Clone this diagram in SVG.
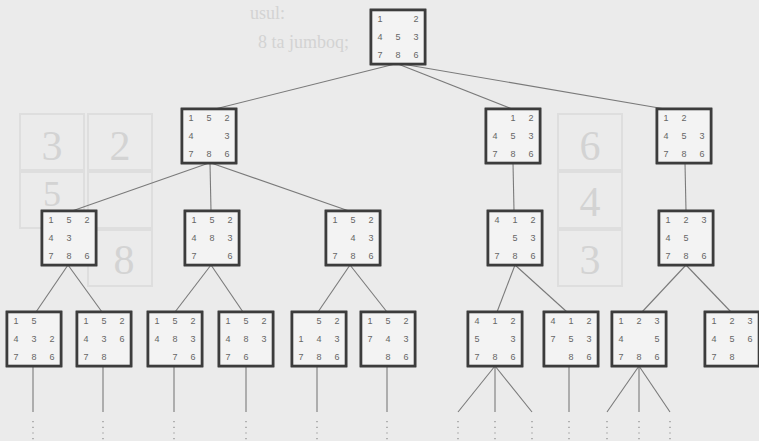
<svg xmlns="http://www.w3.org/2000/svg" width="759" height="441" viewBox="0 0 759 441">
<style>
.bg{fill:#ebebeb}
.ghost{font-family:"Liberation Serif",serif;fill:#d3d3d3}
.gbox{fill:none;stroke:#dedede;stroke-width:2}
.frame{fill:#f3f3f3;stroke:#3c3c3c;stroke-width:2.6}
.t{fill:#efefef;stroke:#5a5a5a;stroke-width:1.2}
.n{font-family:"Liberation Sans",Arial,sans-serif;font-size:9px;fill:#666;text-anchor:middle}
.edge{stroke:#7a7a7a;stroke-width:1.1;fill:none}
.dots{stroke:#8a8a8a;stroke-width:1.2;fill:none;stroke-dasharray:1.2 4.5}
</style>
<rect class="bg" x="0" y="0" width="759" height="441"/>
<g id="ghost">
<text class="ghost" x="250" y="19" font-size="18">usul:</text>
<text class="ghost" x="258" y="48" font-size="18">8 ta jumboq;</text>
<rect class="gbox" x="20" y="114" width="64" height="56"/>
<rect class="gbox" x="88" y="114" width="64" height="56"/>
<rect class="gbox" x="20" y="172" width="64" height="56"/>
<rect class="gbox" x="88" y="172" width="64" height="56"/>
<rect class="gbox" x="88" y="230" width="64" height="56"/>
<rect class="gbox" x="558" y="114" width="64" height="56"/>
<rect class="gbox" x="558" y="172" width="64" height="56"/>
<rect class="gbox" x="558" y="230" width="64" height="56"/>
<text class="ghost" x="52" y="160" font-size="42" text-anchor="middle">3</text>
<text class="ghost" x="120" y="160" font-size="42" text-anchor="middle">2</text>
<text class="ghost" x="52" y="206" font-size="36" text-anchor="middle">5</text>
<text class="ghost" x="124" y="274" font-size="42" text-anchor="middle">8</text>
<text class="ghost" x="590" y="160" font-size="42" text-anchor="middle">6</text>
<text class="ghost" x="590" y="216" font-size="42" text-anchor="middle">4</text>
<text class="ghost" x="590" y="274" font-size="42" text-anchor="middle">3</text>
</g>
<g id="connectors">
<line class="edge" x1="395" y1="64" x2="215" y2="109"/>
<line class="edge" x1="398" y1="64" x2="512" y2="109"/>
<line class="edge" x1="402" y1="64" x2="665" y2="109"/>
<line class="edge" x1="209" y1="163" x2="72" y2="211"/>
<line class="edge" x1="210" y1="163" x2="211" y2="211"/>
<line class="edge" x1="211" y1="163" x2="349" y2="211"/>
<line class="edge" x1="513" y1="163" x2="514" y2="211"/>
<line class="edge" x1="685" y1="163" x2="686" y2="211"/>
<line class="edge" x1="68" y1="265" x2="36" y2="312"/>
<line class="edge" x1="68" y1="265" x2="102" y2="312"/>
<line class="edge" x1="211" y1="265" x2="175" y2="312"/>
<line class="edge" x1="211" y1="265" x2="243" y2="312"/>
<line class="edge" x1="350" y1="265" x2="318" y2="312"/>
<line class="edge" x1="350" y1="265" x2="387" y2="312"/>
<line class="edge" x1="515" y1="265" x2="497" y2="312"/>
<line class="edge" x1="515" y1="265" x2="567" y2="312"/>
<line class="edge" x1="686" y1="265" x2="642" y2="312"/>
<line class="edge" x1="686" y1="265" x2="731" y2="312"/>
<line class="edge" x1="33" y1="366" x2="33" y2="412"/>
<line class="edge" x1="103" y1="366" x2="103" y2="412"/>
<line class="edge" x1="174" y1="366" x2="174" y2="412"/>
<line class="edge" x1="246" y1="366" x2="246" y2="412"/>
<line class="edge" x1="317" y1="366" x2="317" y2="412"/>
<line class="edge" x1="387" y1="366" x2="387" y2="412"/>
<line class="edge" x1="495" y1="366" x2="458" y2="412"/>
<line class="edge" x1="495" y1="366" x2="495" y2="412"/>
<line class="edge" x1="495" y1="366" x2="532" y2="412"/>
<line class="edge" x1="569" y1="366" x2="569" y2="412"/>
<line class="edge" x1="639" y1="366" x2="607" y2="412"/>
<line class="edge" x1="639" y1="366" x2="639" y2="412"/>
<line class="edge" x1="639" y1="366" x2="670" y2="412"/>
<path class="dots" d="M33 421V441M103 421V441M174 421V441M246 421V441M317 421V441M387 421V441M458 421V441M495 421V441M532 421V441M569 421V441M607 421V441M639 421V441M670 421V441"/>
</g>
<g id="root" transform="translate(371,10)"><rect class="frame" width="54" height="54"/><rect class="t" x="0" y="0" width="18" height="18"/><rect class="t" x="36" y="0" width="18" height="18"/><rect class="t" x="0" y="18" width="18" height="18"/><rect class="t" x="18" y="18" width="18" height="18"/><rect class="t" x="36" y="18" width="18" height="18"/><rect class="t" x="0" y="36" width="18" height="18"/><rect class="t" x="18" y="36" width="18" height="18"/><rect class="t" x="36" y="36" width="18" height="18"/><rect class="frame" width="54" height="54" fill="none"/><text class="n" x="9" y="12">1</text><text class="n" x="45" y="12">2</text><text class="n" x="9" y="30">4</text><text class="n" x="27" y="30">5</text><text class="n" x="45" y="30">3</text><text class="n" x="9" y="48">7</text><text class="n" x="27" y="48">8</text><text class="n" x="45" y="48">6</text></g>
<g id="a" transform="translate(182,109)"><rect class="frame" width="54" height="54"/><rect class="t" x="0" y="0" width="18" height="18"/><rect class="t" x="18" y="0" width="18" height="18"/><rect class="t" x="36" y="0" width="18" height="18"/><rect class="t" x="0" y="18" width="18" height="18"/><rect class="t" x="36" y="18" width="18" height="18"/><rect class="t" x="0" y="36" width="18" height="18"/><rect class="t" x="18" y="36" width="18" height="18"/><rect class="t" x="36" y="36" width="18" height="18"/><rect class="frame" width="54" height="54" fill="none"/><text class="n" x="9" y="12">1</text><text class="n" x="27" y="12">5</text><text class="n" x="45" y="12">2</text><text class="n" x="9" y="30">4</text><text class="n" x="45" y="30">3</text><text class="n" x="9" y="48">7</text><text class="n" x="27" y="48">8</text><text class="n" x="45" y="48">6</text></g>
<g id="b" transform="translate(486,109)"><rect class="frame" width="54" height="54"/><rect class="t" x="18" y="0" width="18" height="18"/><rect class="t" x="36" y="0" width="18" height="18"/><rect class="t" x="0" y="18" width="18" height="18"/><rect class="t" x="18" y="18" width="18" height="18"/><rect class="t" x="36" y="18" width="18" height="18"/><rect class="t" x="0" y="36" width="18" height="18"/><rect class="t" x="18" y="36" width="18" height="18"/><rect class="t" x="36" y="36" width="18" height="18"/><rect class="frame" width="54" height="54" fill="none"/><text class="n" x="27" y="12">1</text><text class="n" x="45" y="12">2</text><text class="n" x="9" y="30">4</text><text class="n" x="27" y="30">5</text><text class="n" x="45" y="30">3</text><text class="n" x="9" y="48">7</text><text class="n" x="27" y="48">8</text><text class="n" x="45" y="48">6</text></g>
<g id="c" transform="translate(657,109)"><rect class="frame" width="54" height="54"/><rect class="t" x="0" y="0" width="18" height="18"/><rect class="t" x="18" y="0" width="18" height="18"/><rect class="t" x="0" y="18" width="18" height="18"/><rect class="t" x="18" y="18" width="18" height="18"/><rect class="t" x="36" y="18" width="18" height="18"/><rect class="t" x="0" y="36" width="18" height="18"/><rect class="t" x="18" y="36" width="18" height="18"/><rect class="t" x="36" y="36" width="18" height="18"/><rect class="frame" width="54" height="54" fill="none"/><text class="n" x="9" y="12">1</text><text class="n" x="27" y="12">2</text><text class="n" x="9" y="30">4</text><text class="n" x="27" y="30">5</text><text class="n" x="45" y="30">3</text><text class="n" x="9" y="48">7</text><text class="n" x="27" y="48">8</text><text class="n" x="45" y="48">6</text></g>
<g id="a1" transform="translate(42,211)"><rect class="frame" width="54" height="54"/><rect class="t" x="0" y="0" width="18" height="18"/><rect class="t" x="18" y="0" width="18" height="18"/><rect class="t" x="36" y="0" width="18" height="18"/><rect class="t" x="0" y="18" width="18" height="18"/><rect class="t" x="18" y="18" width="18" height="18"/><rect class="t" x="0" y="36" width="18" height="18"/><rect class="t" x="18" y="36" width="18" height="18"/><rect class="t" x="36" y="36" width="18" height="18"/><rect class="frame" width="54" height="54" fill="none"/><text class="n" x="9" y="12">1</text><text class="n" x="27" y="12">5</text><text class="n" x="45" y="12">2</text><text class="n" x="9" y="30">4</text><text class="n" x="27" y="30">3</text><text class="n" x="9" y="48">7</text><text class="n" x="27" y="48">8</text><text class="n" x="45" y="48">6</text></g>
<g id="a2" transform="translate(185,211)"><rect class="frame" width="54" height="54"/><rect class="t" x="0" y="0" width="18" height="18"/><rect class="t" x="18" y="0" width="18" height="18"/><rect class="t" x="36" y="0" width="18" height="18"/><rect class="t" x="0" y="18" width="18" height="18"/><rect class="t" x="18" y="18" width="18" height="18"/><rect class="t" x="36" y="18" width="18" height="18"/><rect class="t" x="0" y="36" width="18" height="18"/><rect class="t" x="36" y="36" width="18" height="18"/><rect class="frame" width="54" height="54" fill="none"/><text class="n" x="9" y="12">1</text><text class="n" x="27" y="12">5</text><text class="n" x="45" y="12">2</text><text class="n" x="9" y="30">4</text><text class="n" x="27" y="30">8</text><text class="n" x="45" y="30">3</text><text class="n" x="9" y="48">7</text><text class="n" x="45" y="48">6</text></g>
<g id="a3" transform="translate(326,211)"><rect class="frame" width="54" height="54"/><rect class="t" x="0" y="0" width="18" height="18"/><rect class="t" x="18" y="0" width="18" height="18"/><rect class="t" x="36" y="0" width="18" height="18"/><rect class="t" x="18" y="18" width="18" height="18"/><rect class="t" x="36" y="18" width="18" height="18"/><rect class="t" x="0" y="36" width="18" height="18"/><rect class="t" x="18" y="36" width="18" height="18"/><rect class="t" x="36" y="36" width="18" height="18"/><rect class="frame" width="54" height="54" fill="none"/><text class="n" x="9" y="12">1</text><text class="n" x="27" y="12">5</text><text class="n" x="45" y="12">2</text><text class="n" x="27" y="30">4</text><text class="n" x="45" y="30">3</text><text class="n" x="9" y="48">7</text><text class="n" x="27" y="48">8</text><text class="n" x="45" y="48">6</text></g>
<g id="b1" transform="translate(488,211)"><rect class="frame" width="54" height="54"/><rect class="t" x="0" y="0" width="18" height="18"/><rect class="t" x="18" y="0" width="18" height="18"/><rect class="t" x="36" y="0" width="18" height="18"/><rect class="t" x="18" y="18" width="18" height="18"/><rect class="t" x="36" y="18" width="18" height="18"/><rect class="t" x="0" y="36" width="18" height="18"/><rect class="t" x="18" y="36" width="18" height="18"/><rect class="t" x="36" y="36" width="18" height="18"/><rect class="frame" width="54" height="54" fill="none"/><text class="n" x="9" y="12">4</text><text class="n" x="27" y="12">1</text><text class="n" x="45" y="12">2</text><text class="n" x="27" y="30">5</text><text class="n" x="45" y="30">3</text><text class="n" x="9" y="48">7</text><text class="n" x="27" y="48">8</text><text class="n" x="45" y="48">6</text></g>
<g id="c1" transform="translate(659,211)"><rect class="frame" width="54" height="54"/><rect class="t" x="0" y="0" width="18" height="18"/><rect class="t" x="18" y="0" width="18" height="18"/><rect class="t" x="36" y="0" width="18" height="18"/><rect class="t" x="0" y="18" width="18" height="18"/><rect class="t" x="18" y="18" width="18" height="18"/><rect class="t" x="0" y="36" width="18" height="18"/><rect class="t" x="18" y="36" width="18" height="18"/><rect class="t" x="36" y="36" width="18" height="18"/><rect class="frame" width="54" height="54" fill="none"/><text class="n" x="9" y="12">1</text><text class="n" x="27" y="12">2</text><text class="n" x="45" y="12">3</text><text class="n" x="9" y="30">4</text><text class="n" x="27" y="30">5</text><text class="n" x="9" y="48">7</text><text class="n" x="27" y="48">8</text><text class="n" x="45" y="48">6</text></g>
<g id="l1" transform="translate(7,312)"><rect class="frame" width="54" height="54"/><rect class="t" x="0" y="0" width="18" height="18"/><rect class="t" x="18" y="0" width="18" height="18"/><rect class="t" x="0" y="18" width="18" height="18"/><rect class="t" x="18" y="18" width="18" height="18"/><rect class="t" x="36" y="18" width="18" height="18"/><rect class="t" x="0" y="36" width="18" height="18"/><rect class="t" x="18" y="36" width="18" height="18"/><rect class="t" x="36" y="36" width="18" height="18"/><rect class="frame" width="54" height="54" fill="none"/><text class="n" x="9" y="12">1</text><text class="n" x="27" y="12">5</text><text class="n" x="9" y="30">4</text><text class="n" x="27" y="30">3</text><text class="n" x="45" y="30">2</text><text class="n" x="9" y="48">7</text><text class="n" x="27" y="48">8</text><text class="n" x="45" y="48">6</text></g>
<g id="l2" transform="translate(77,312)"><rect class="frame" width="54" height="54"/><rect class="t" x="0" y="0" width="18" height="18"/><rect class="t" x="18" y="0" width="18" height="18"/><rect class="t" x="36" y="0" width="18" height="18"/><rect class="t" x="0" y="18" width="18" height="18"/><rect class="t" x="18" y="18" width="18" height="18"/><rect class="t" x="36" y="18" width="18" height="18"/><rect class="t" x="0" y="36" width="18" height="18"/><rect class="t" x="18" y="36" width="18" height="18"/><rect class="frame" width="54" height="54" fill="none"/><text class="n" x="9" y="12">1</text><text class="n" x="27" y="12">5</text><text class="n" x="45" y="12">2</text><text class="n" x="9" y="30">4</text><text class="n" x="27" y="30">3</text><text class="n" x="45" y="30">6</text><text class="n" x="9" y="48">7</text><text class="n" x="27" y="48">8</text></g>
<g id="l3" transform="translate(148,312)"><rect class="frame" width="54" height="54"/><rect class="t" x="0" y="0" width="18" height="18"/><rect class="t" x="18" y="0" width="18" height="18"/><rect class="t" x="36" y="0" width="18" height="18"/><rect class="t" x="0" y="18" width="18" height="18"/><rect class="t" x="18" y="18" width="18" height="18"/><rect class="t" x="36" y="18" width="18" height="18"/><rect class="t" x="18" y="36" width="18" height="18"/><rect class="t" x="36" y="36" width="18" height="18"/><rect class="frame" width="54" height="54" fill="none"/><text class="n" x="9" y="12">1</text><text class="n" x="27" y="12">5</text><text class="n" x="45" y="12">2</text><text class="n" x="9" y="30">4</text><text class="n" x="27" y="30">8</text><text class="n" x="45" y="30">3</text><text class="n" x="27" y="48">7</text><text class="n" x="45" y="48">6</text></g>
<g id="l4" transform="translate(219,312)"><rect class="frame" width="54" height="54"/><rect class="t" x="0" y="0" width="18" height="18"/><rect class="t" x="18" y="0" width="18" height="18"/><rect class="t" x="36" y="0" width="18" height="18"/><rect class="t" x="0" y="18" width="18" height="18"/><rect class="t" x="18" y="18" width="18" height="18"/><rect class="t" x="36" y="18" width="18" height="18"/><rect class="t" x="0" y="36" width="18" height="18"/><rect class="t" x="18" y="36" width="18" height="18"/><rect class="frame" width="54" height="54" fill="none"/><text class="n" x="9" y="12">1</text><text class="n" x="27" y="12">5</text><text class="n" x="45" y="12">2</text><text class="n" x="9" y="30">4</text><text class="n" x="27" y="30">8</text><text class="n" x="45" y="30">3</text><text class="n" x="9" y="48">7</text><text class="n" x="27" y="48">6</text></g>
<g id="l5" transform="translate(292,312)"><rect class="frame" width="54" height="54"/><rect class="t" x="18" y="0" width="18" height="18"/><rect class="t" x="36" y="0" width="18" height="18"/><rect class="t" x="0" y="18" width="18" height="18"/><rect class="t" x="18" y="18" width="18" height="18"/><rect class="t" x="36" y="18" width="18" height="18"/><rect class="t" x="0" y="36" width="18" height="18"/><rect class="t" x="18" y="36" width="18" height="18"/><rect class="t" x="36" y="36" width="18" height="18"/><rect class="frame" width="54" height="54" fill="none"/><text class="n" x="27" y="12">5</text><text class="n" x="45" y="12">2</text><text class="n" x="9" y="30">1</text><text class="n" x="27" y="30">4</text><text class="n" x="45" y="30">3</text><text class="n" x="9" y="48">7</text><text class="n" x="27" y="48">8</text><text class="n" x="45" y="48">6</text></g>
<g id="l6" transform="translate(361,312)"><rect class="frame" width="54" height="54"/><rect class="t" x="0" y="0" width="18" height="18"/><rect class="t" x="18" y="0" width="18" height="18"/><rect class="t" x="36" y="0" width="18" height="18"/><rect class="t" x="0" y="18" width="18" height="18"/><rect class="t" x="18" y="18" width="18" height="18"/><rect class="t" x="36" y="18" width="18" height="18"/><rect class="t" x="18" y="36" width="18" height="18"/><rect class="t" x="36" y="36" width="18" height="18"/><rect class="frame" width="54" height="54" fill="none"/><text class="n" x="9" y="12">1</text><text class="n" x="27" y="12">5</text><text class="n" x="45" y="12">2</text><text class="n" x="9" y="30">7</text><text class="n" x="27" y="30">4</text><text class="n" x="45" y="30">3</text><text class="n" x="27" y="48">8</text><text class="n" x="45" y="48">6</text></g>
<g id="l7" transform="translate(468,312)"><rect class="frame" width="54" height="54"/><rect class="t" x="0" y="0" width="18" height="18"/><rect class="t" x="18" y="0" width="18" height="18"/><rect class="t" x="36" y="0" width="18" height="18"/><rect class="t" x="0" y="18" width="18" height="18"/><rect class="t" x="36" y="18" width="18" height="18"/><rect class="t" x="0" y="36" width="18" height="18"/><rect class="t" x="18" y="36" width="18" height="18"/><rect class="t" x="36" y="36" width="18" height="18"/><rect class="frame" width="54" height="54" fill="none"/><text class="n" x="9" y="12">4</text><text class="n" x="27" y="12">1</text><text class="n" x="45" y="12">2</text><text class="n" x="9" y="30">5</text><text class="n" x="45" y="30">3</text><text class="n" x="9" y="48">7</text><text class="n" x="27" y="48">8</text><text class="n" x="45" y="48">6</text></g>
<g id="l8" transform="translate(544,312)"><rect class="frame" width="54" height="54"/><rect class="t" x="0" y="0" width="18" height="18"/><rect class="t" x="18" y="0" width="18" height="18"/><rect class="t" x="36" y="0" width="18" height="18"/><rect class="t" x="0" y="18" width="18" height="18"/><rect class="t" x="18" y="18" width="18" height="18"/><rect class="t" x="36" y="18" width="18" height="18"/><rect class="t" x="18" y="36" width="18" height="18"/><rect class="t" x="36" y="36" width="18" height="18"/><rect class="frame" width="54" height="54" fill="none"/><text class="n" x="9" y="12">4</text><text class="n" x="27" y="12">1</text><text class="n" x="45" y="12">2</text><text class="n" x="9" y="30">7</text><text class="n" x="27" y="30">5</text><text class="n" x="45" y="30">3</text><text class="n" x="27" y="48">8</text><text class="n" x="45" y="48">6</text></g>
<g id="l9" transform="translate(612,312)"><rect class="frame" width="54" height="54"/><rect class="t" x="0" y="0" width="18" height="18"/><rect class="t" x="18" y="0" width="18" height="18"/><rect class="t" x="36" y="0" width="18" height="18"/><rect class="t" x="0" y="18" width="18" height="18"/><rect class="t" x="36" y="18" width="18" height="18"/><rect class="t" x="0" y="36" width="18" height="18"/><rect class="t" x="18" y="36" width="18" height="18"/><rect class="t" x="36" y="36" width="18" height="18"/><rect class="frame" width="54" height="54" fill="none"/><text class="n" x="9" y="12">1</text><text class="n" x="27" y="12">2</text><text class="n" x="45" y="12">3</text><text class="n" x="9" y="30">4</text><text class="n" x="45" y="30">5</text><text class="n" x="9" y="48">7</text><text class="n" x="27" y="48">8</text><text class="n" x="45" y="48">6</text></g>
<g id="l10" transform="translate(705,312)"><rect class="frame" width="54" height="54"/><rect class="t" x="0" y="0" width="18" height="18"/><rect class="t" x="18" y="0" width="18" height="18"/><rect class="t" x="36" y="0" width="18" height="18"/><rect class="t" x="0" y="18" width="18" height="18"/><rect class="t" x="18" y="18" width="18" height="18"/><rect class="t" x="36" y="18" width="18" height="18"/><rect class="t" x="0" y="36" width="18" height="18"/><rect class="t" x="18" y="36" width="18" height="18"/><rect class="frame" width="54" height="54" fill="none"/><text class="n" x="9" y="12">1</text><text class="n" x="27" y="12">2</text><text class="n" x="45" y="12">3</text><text class="n" x="9" y="30">4</text><text class="n" x="27" y="30">5</text><text class="n" x="45" y="30">6</text><text class="n" x="9" y="48">7</text><text class="n" x="27" y="48">8</text></g>
</svg>
